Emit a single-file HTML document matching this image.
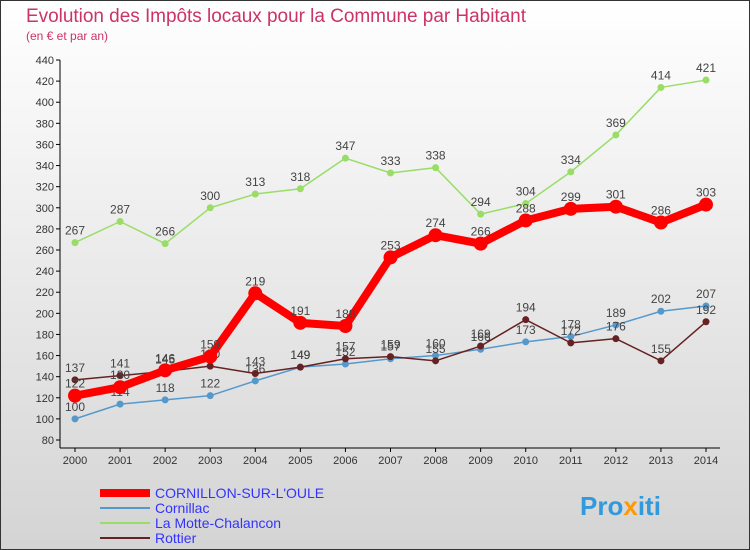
<!DOCTYPE html>
<html><head><meta charset="utf-8"><style>
body{margin:0;width:750px;height:550px;overflow:hidden;font-family:"Liberation Sans",sans-serif}
#c{position:absolute;left:0;top:0}
</style></head><body>
<svg id="c" width="750" height="550" xmlns="http://www.w3.org/2000/svg">
<defs><linearGradient id="bg" x1="0" y1="0" x2="0" y2="1"><stop offset="0" stop-color="#ffffff"/><stop offset="1" stop-color="#d4d4d4"/></linearGradient></defs>
<rect x="0.5" y="0.5" width="749" height="549" fill="url(#bg)" stroke="#333"/>
<text x="26" y="22" font-size="19" fill="#cc3366" textLength="500">Evolution des Impôts locaux pour la Commune par Habitant</text>
<text x="26" y="40" font-size="12" fill="#cc3366">(en € et par an)</text>
<g id="axes"></g><g id="series"></g><g id="legend"></g>
<text x="580" y="515" font-size="26" font-weight="bold" fill="#3399dd">Pro<tspan fill="#ff9900">x</tspan>iti</text>
</svg>
<script>
const years=[2000,2001,2002,2003,2004,2005,2006,2007,2008,2009,2010,2011,2012,2013,2014];
const yTicks=[80,100,120,140,160,180,200,220,240,260,280,300,320,340,360,380,400,420,440];
const cornillon=[122,130,146,159,219,191,188,253,274,266,288,299,301,286,303];
const cornillac=[100,114,118,122,136,149,152,157,160,166,173,178,189,202,207];
const motte=[267,287,266,300,313,318,347,333,338,294,304,334,369,414,421];
const rottier=[137,141,145,150,143,149,157,159,155,169,194,172,176,155,192];
const NS="http://www.w3.org/2000/svg";
const X=i=>75+i*(706-75)/14;
const Y=v=>440-(v-80)*(380/360);
function mk(t,a,p){const e=document.createElementNS(NS,t);for(const k in a)e.setAttribute(k,a[k]);p.appendChild(e);return e;}
const ax=document.getElementById('axes');
const yl=mk('line',{x1:60,y1:Y(440),x2:60,y2:448,stroke:'#000'},ax);


const xl=mk('line',{x1:60,y1:448,x2:720,y2:448,stroke:'#000'},ax);


yTicks.forEach(v=>{
 mk('line',{x1:56,y1:Y(v),x2:60,y2:Y(v),stroke:'#000'},ax);
 const t=mk('text',{x:54,y:Y(v)+4,'font-size':11,'text-anchor':'end',fill:'#333'},ax);t.textContent=v;
 
 
});
years.forEach((y,i)=>{
 mk('line',{x1:X(i),y1:448,x2:X(i),y2:452,stroke:'#000'},ax);
 const t=mk('text',{x:X(i),y:464,'font-size':11,'text-anchor':'middle',fill:'#333'},ax);t.textContent=y;
 
 
});
const S=document.getElementById('series');
function series(data,color,w,r,name){
 const g=mk('g',{},S);
 
 
 const p=mk('polyline',{points:data.map((v,i)=>X(i)+','+Y(v)).join(' '),fill:'none',stroke:color,'stroke-width':w,'stroke-linejoin':'round'},g);
 
 
 data.forEach((v,i)=>{
  const c=mk('circle',{cx:X(i),cy:Y(v),r:r,fill:color},g);
  
  
  const t=mk('text',{x:X(i),y:Y(v)-8,'font-size':12,'text-anchor':'middle',fill:'#444'},g);t.textContent=v;
  
  
 });
}
series(motte,'#99dd66',1.5,3.5,'la-motte-chalancon');
series(cornillac,'#5599cc',1.5,3.5,'cornillac');
series(rottier,'#662222',1.5,3.5,'rottier');
series(cornillon,'#ff0000',8,7,'cornillon-sur-l-oule');
const L=document.getElementById('legend');
const items=[['CORNILLON-SUR-L\'OULE','#ff0000',8],['Cornillac','#5599cc',2],['La Motte-Chalancon','#99dd66',2],['Rottier','#662222',2]];
items.forEach((it,i)=>{
 const y=493+i*15;
 const l=mk('line',{x1:100,y1:y,x2:150,y2:y,stroke:it[1],'stroke-width':it[2]},L);
 
 
 const t=mk('text',{x:155,y:y+5,'font-size':14,fill:'#3333ff'},L);t.textContent=it[0];
 
 
});
</script>
</body></html>
